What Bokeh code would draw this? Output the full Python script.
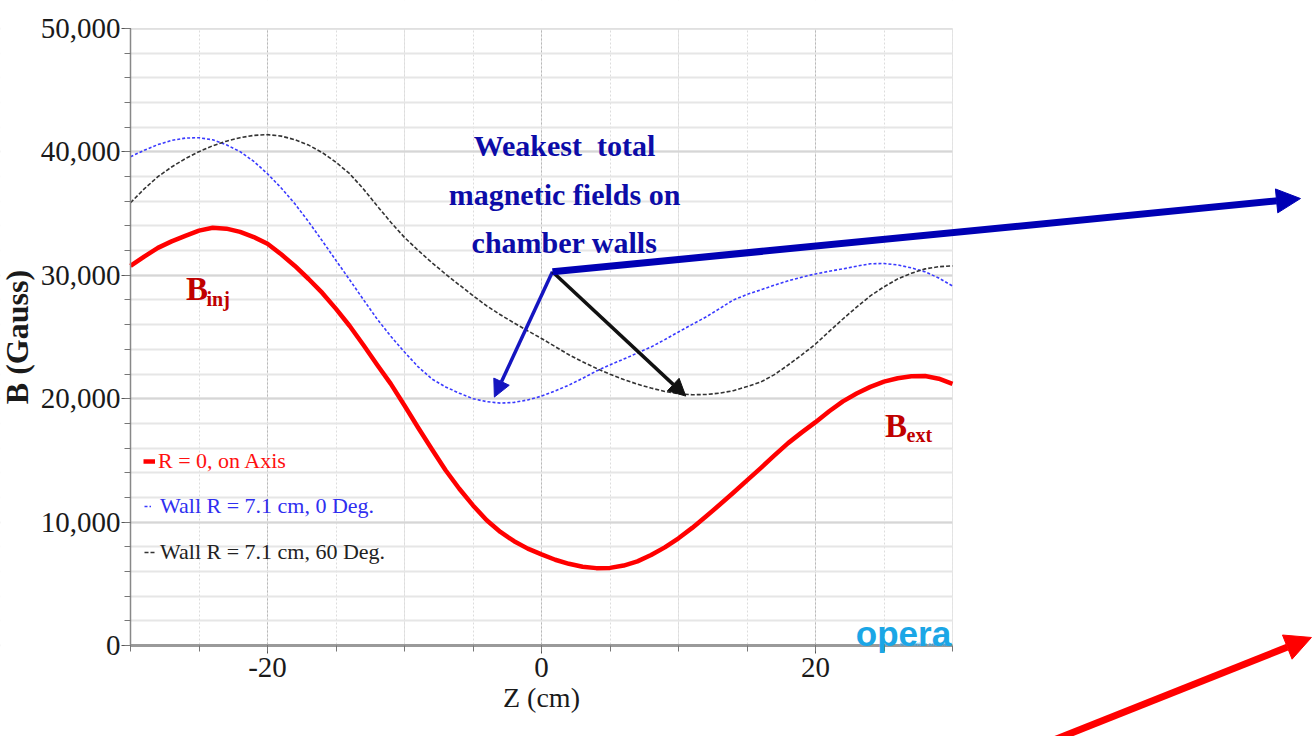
from bokeh.plotting import figure
from bokeh.models import (Range1d, FixedTicker, NumeralTickFormatter, Legend, LegendItem,
                          Label, Arrow, NormalHead, BoxAnnotation, LinearAxis, Grid)
from bokeh.embed import file_html
from bokeh.resources import INLINE

# ---- data ----
z_cm = list(range(-30, 31))
b_axis = [30760, 31520, 32220, 32750, 33200, 33620, 33850, 33780, 33520, 33100,
          32550, 31700, 30760, 29700, 28570, 27280, 25890, 24350, 22750, 21200,
          19450, 17650, 15900, 14200, 12700, 11350, 10150, 9200, 8450, 7850,
          7380, 6950, 6620, 6380, 6270, 6290, 6480, 6820, 7330, 7950,
          8690, 9530, 10450, 11400, 12380, 13380, 14380, 15400, 16400, 17270,
          18100, 18980, 19780, 20420, 20960, 21380, 21660, 21820, 21840, 21620, 21200]
b_wall_0 = [39610, 40130, 40590, 40930, 41120, 41150, 40980, 40580, 40020, 39230,
            38230, 37080, 35790, 34340, 32790, 31200, 29630, 28030, 26460, 25060,
            23780, 22580, 21600, 20950, 20450, 20000, 19760, 19640, 19700, 19900,
            20210, 20630, 21100, 21650, 22240, 22740, 23210, 23700, 24190, 24790,
            25410, 26020, 26620, 27300, 28000, 28450, 28820, 29200, 29550, 29850,
            30110, 30330, 30520, 30740, 30930, 30960, 30840, 30600, 30280, 29780, 29140]
b_wall_60 = [35880, 37000, 37990, 38780, 39450, 40020, 40500, 40870, 41150, 41340,
             41400, 41280, 40990, 40550, 39940, 39160, 38230, 37000, 35630, 34300,
             33070, 32020, 31020, 30100, 29220, 28350, 27520, 26800, 26140, 25500,
             24880, 24220, 23560, 22990, 22460, 21980, 21560, 21180, 20860, 20590,
             20400, 20320, 20340, 20450, 20650, 20980, 21350, 21950, 22730, 23550,
             24430, 25450, 26460, 27420, 28330, 29070, 29710, 30170, 30520, 30700, 30760]

series_labels = ["R = 0, on Axis", "Wall R = 7.1 cm, 0 Deg.", "Wall R = 7.1 cm, 60 Deg."]
x_major = [-20, 0, 20]
x_major_labels = ["-20", "0", "20"]
x_minor = [-30, -25, -20, -15, -10, -5, 0, 5, 10, 15, 20, 25, 30]
y_major = [0, 10000, 20000, 30000, 40000, 50000]
y_minor = list(range(0, 50001, 2000))

SERIF = "Liberation Serif"
X0, X1, Y0, Y1 = -30, 30, 0, 50000          # plotted data box
W, H = 1313, 736
BOX_L, BOX_R, BOX_T, BOX_B = 130, 952, 28, 645  # pixel placement of the data box
KX = (BOX_R - BOX_L) / (X1 - X0)
KY = (BOX_B - BOX_T) / (Y1 - Y0)
xr = Range1d(X0 - BOX_L / KX, X1 + (W - BOX_R) / KX)
yr = Range1d(Y0 - (H - BOX_B) / KY, Y1 + BOX_T / KY)

# the frame fills the whole canvas so that the long arrows can leave the data box
p = figure(width=W, height=H, output_backend="svg", toolbar_location=None,
           x_range=xr, y_range=yr, min_border=0,
           x_axis_location=None, y_axis_location=None)
p.background_fill_color = "white"
p.border_fill_color = "white"
p.outline_line_color = None

xaxis = LinearAxis(fixed_location=Y0, bounds=(X0, X1),
                   ticker=FixedTicker(ticks=x_major, minor_ticks=x_minor))
xaxis.major_label_overrides = {t: s for t, s in zip(x_major, x_major_labels)}
yaxis = LinearAxis(fixed_location=X0, bounds=(Y0, Y1),
                   ticker=FixedTicker(ticks=y_major, minor_ticks=y_minor),
                   formatter=NumeralTickFormatter(format="0,0"))
for ax in (xaxis, yaxis):
    ax.major_label_text_font = SERIF
    ax.major_label_text_font_size = "29px"
    ax.major_label_text_color = "#1a1a1a"
    ax.axis_label_text_font = SERIF
    ax.axis_label_text_color = "#1a1a1a"
    ax.major_tick_in = 0
    ax.minor_tick_in = 0
    ax.major_tick_line_color = "#555555"
    ax.minor_tick_line_color = "#777777"
xaxis.axis_label = "Z (cm)"
xaxis.axis_label_text_font_size = "28px"
xaxis.axis_label_text_font_style = "normal"
xaxis.axis_label_standoff = 2
xaxis.major_tick_out = 8
xaxis.minor_tick_out = 6
xaxis.major_label_standoff = 4
xaxis.axis_line_color = "#9a9a9a"
xaxis.axis_line_width = 3

yaxis.axis_label = "B (Gauss)"
yaxis.axis_label_text_font_size = "32px"
yaxis.axis_label_text_font_style = "bold"
yaxis.axis_label_standoff = 3
yaxis.major_tick_out = 9
yaxis.minor_tick_out = 6
yaxis.major_label_standoff = 1
yaxis.axis_line_color = "#888888"
yaxis.axis_line_width = 1.5
p.add_layout(xaxis, "below")
p.add_layout(yaxis, "left")

xgrid = Grid(dimension=0, ticker=xaxis.ticker, bounds=(X0, X1),
             grid_line_color="#b8b8b8", grid_line_dash="2 2",
             minor_grid_line_color="#dcdcdc", minor_grid_line_dash="2 2")
ygrid = Grid(dimension=1, ticker=yaxis.ticker, bounds=(Y0, Y1),
             grid_line_color="#d6d6d6", grid_line_width=2,
             minor_grid_line_color="#e6e6e6", minor_grid_line_width=2)
p.add_layout(xgrid)
p.add_layout(ygrid)

# white covers keep the grid inside the data box
XS, XE, YS, YE = xr.start - 1, xr.end + 1, yr.start - 1000, yr.end + 1000
for l, r, b, t in [(XS, X0, YS, YE), (X1, XE, YS, YE), (XS, XE, YS, Y0), (XS, XE, Y1, YE)]:
    p.add_layout(BoxAnnotation(left=l, right=r, bottom=b, top=t, fill_color="white",
                               fill_alpha=1.0, line_color=None, level="underlay"))
p.add_layout(BoxAnnotation(left=X0, right=X1, bottom=Y0, top=Y1, fill_alpha=0,
                           line_color="#c8c8c8", line_width=1, level="underlay"))

# curves
r_axis = p.line(z_cm, b_axis, line_color="#ff0000", line_width=4.5, line_join="round")
r_w0 = p.line(z_cm, b_wall_0, line_color="#3a3aff", line_width=1.6, line_dash="3 2")
r_w60 = p.line(z_cm, b_wall_60, line_color="#333333", line_width=1.6, line_dash="4 2")

# legend entries, each with its own text colour (locations in canvas pixels)
leg_specs = [
    (r_axis, series_labels[0], "#ff1010", (143, 262), 12, 3),
    (r_w0, series_labels[1], "#2f2ff0", (144, 217), 7, 9),
    (r_w60, series_labels[2], "#222222", (144, 171), 11, 5),
]
for rend, lab, col, loc, gw, st in leg_specs:
    lg = Legend(items=[LegendItem(label=lab, renderers=[rend])], location=loc,
                label_text_color=col, label_text_font=SERIF,
                label_text_font_size="22px", glyph_width=gw, glyph_height=24,
                label_height=24, label_standoff=st, padding=0, margin=0,
                spacing=0, border_line_alpha=0, background_fill_alpha=0)
    p.add_layout(lg)

# annotation text
ANN = "#0c0ca8"
for txt, yv in [("Weakest\u00a0 total", 40500), ("magnetic fields on", 36530),
                ("chamber walls", 32630)]:
    p.add_layout(Label(x=1.68, y=yv, text=txt, text_align="center",
                       text_baseline="middle", text_font=SERIF,
                       text_font_style="bold", text_font_size="30px",
                       text_color=ANN))

DR = "#c00000"
p.add_layout(Label(x=-25.95, y=28900, text="B", text_font=SERIF, text_font_style="bold",
                   text_font_size="33px", text_color=DR, text_baseline="alphabetic"))
p.add_layout(Label(x=-24.45, y=28100, text="inj", text_font=SERIF, text_font_style="bold",
                   text_font_size="20px", text_color=DR, text_baseline="alphabetic"))
p.add_layout(Label(x=25.07, y=17780, text="B", text_font=SERIF, text_font_style="bold",
                   text_font_size="33px", text_color=DR, text_baseline="alphabetic"))
p.add_layout(Label(x=26.65, y=17050, text="ext", text_font=SERIF, text_font_style="bold",
                   text_font_size="20px", text_color=DR, text_baseline="alphabetic"))

# opera logo
p.add_layout(Label(x=29.9, y=950, text="opera", text_align="right",
                   text_font="Liberation Sans", text_font_style="bold",
                   text_font_size="35px", text_color="#1ba6e6",
                   text_baseline="alphabetic"))
p.add_layout(Label(x=29.9, y=120, text="simulation software", text_align="right",
                   text_font="Liberation Sans", text_font_size="6px",
                   text_color="#1ba6e6", text_baseline="alphabetic"))

# arrows
def arrow(x0, y0, x1, y1, col, w, size):
    p.add_layout(Arrow(end=NormalHead(size=size, fill_color=col, line_color=col),
                       x_start=x0, y_start=y0, x_end=x1, y_end=y1,
                       line_color=col, line_width=w))

arrow(0.8, 30280, -3.44, 20130, "#1515c0", 3.5, 17)
arrow(0.8, 30280, 10.53, 20210, "#111111", 3.5, 17)
arrow(0.8, 30280, 55.4, 36220, "#0000b4", 7, 24)
arrow(36.4, -8100, 56.2, 650, "#ff0000", 7, 26)

open("out.html", "w").write(file_html(p, INLINE))
